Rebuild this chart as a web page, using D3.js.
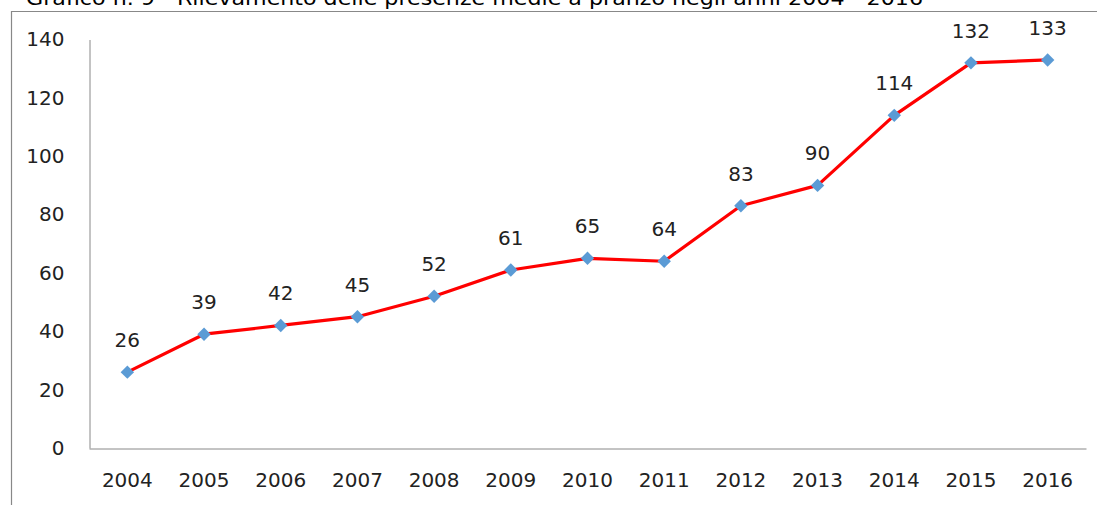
<!DOCTYPE html>
<html>
<head>
<meta charset="utf-8">
<script src="https://cdn.jsdelivr.net/npm/d3@7"></script>
<style>
  body { margin: 0; background: #fff; }
  svg { display: block; font-family: "DejaVu Sans", Verdana, sans-serif; }
</style>
</head>
<body>
<div id="app"></div>
<script>
const title = 'Grafico n. 9 - Rilevamento delle presenze medie a pranzo negli anni 2004 - 2016'
const years = ['2004', '2005', '2006', '2007', '2008', '2009', '2010', '2011', '2012', '2013', '2014', '2015', '2016']
const presenze = [26, 39, 42, 45, 52, 61, 65, 64, 83, 90, 114, 132, 133]
const yTicks = [0, 20, 40, 60, 80, 100, 120, 140]

const W = 1097, H = 505
const svg = d3.select('#app').append('svg')
  .attr('width', W)
  .attr('height', H)

// frame box around the chart (runs off the right and bottom edge)
svg.append('path')
  .attr('d', `M11.5,${H + 5}V11.5H${W + 5}`)
  .attr('fill', 'none')
  .attr('stroke', '#888')
  .attr('stroke-width', 1.2)

// title sits above the frame, partly cut by the top edge as in the original
svg.append('text')
  .attr('x', 26)
  .attr('y', 5)
  .attr('font-size', 20)
  .attr('fill', '#000')
  .attr('textLength', 897)
  .attr('lengthAdjust', 'spacingAndGlyphs')
  .text(title)

const x = d3.scaleBand().domain(years).range([89, 1086])
const y = d3.scaleLinear().domain([0, 140]).range([448, 39.5])

const g = svg.append('g')

const yAxis = g.append('g')
  .attr('transform', 'translate(89.5,0)')
  .call(d3.axisLeft(y).tickValues(yTicks).tickSize(0).tickPadding(25))
  .attr('font-size', 20)
  .attr('font-family', null)
yAxis.select('.domain').attr('stroke', '#888')
yAxis.selectAll('text').attr('fill', '#222')

const xAxis = g.append('g')
  .attr('transform', 'translate(0,448.5)')
  .call(d3.axisBottom(x).tickSize(0).tickPadding(24))
  .attr('font-size', 20)
  .attr('font-family', null)
xAxis.select('.domain').attr('stroke', '#888')
xAxis.selectAll('text').attr('fill', '#222')

const pts = years.map((d, i) => ({ year: d, value: presenze[i] }))
const cx = d => x(d.year) + x.bandwidth() / 2

g.append('path')
  .datum(pts)
  .attr('fill', 'none')
  .attr('stroke', '#ff0000')
  .attr('stroke-width', 3.2)
  .attr('stroke-linejoin', 'round')
  .attr('d', d3.line().x(cx).y(d => y(d.value)))

g.selectAll('.pt')
  .data(pts)
  .enter().append('path')
  .attr('class', 'pt')
  .attr('transform', d => `translate(${cx(d)},${y(d.value)})`)
  .attr('d', d3.symbol(d3.symbolDiamond2, 115))
  .attr('fill', '#5b9bd5')

g.selectAll('.lbl')
  .data(pts)
  .enter().append('text')
  .attr('class', 'lbl')
  .attr('x', cx)
  .attr('y', d => y(d.value) - 25)
  .attr('text-anchor', 'middle')
  .attr('font-size', 20)
  .attr('fill', '#222')
  .text(d => d.value)
</script>
</body>
</html>
